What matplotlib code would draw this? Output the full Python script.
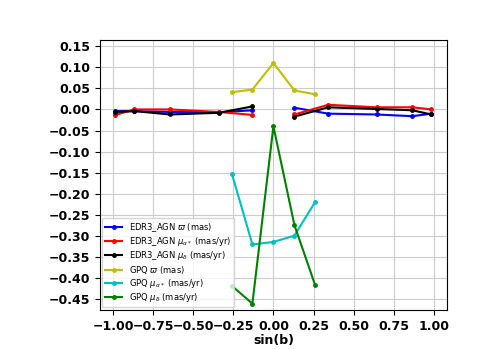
import numpy as np
import matplotlib
matplotlib.use("Agg")
import matplotlib.pyplot as plt

# sin(b) bins
x_edr3 = [-0.985, -0.866, -0.643, -0.342, -0.131, np.nan, 0.131, 0.342, 0.643, 0.866, 0.985]
x_gpq = [-0.259, -0.131, 0.0, 0.131, 0.259]

edr3_plx = [-0.004, -0.004, -0.006, -0.007, -0.002, np.nan, 0.004, -0.010, -0.012, -0.016, -0.010]
edr3_pmra = [-0.013, 0.0, 0.0, -0.006, -0.013, np.nan, -0.012, 0.011, 0.005, 0.005, 0.0]
edr3_pmdec = [-0.006, -0.004, -0.012, -0.008, 0.007, np.nan, -0.017, 0.005, 0.001, -0.002, -0.012]

gpq_plx = [0.041, 0.047, 0.110, 0.045, 0.036]
gpq_pmra = [-0.152, -0.320, -0.314, -0.299, -0.220]
gpq_pmdec = [-0.418, -0.460, -0.040, -0.274, -0.415]

fig = plt.figure(figsize=(4.98, 3.49), dpi=100)
ax = fig.add_axes([0.2, 0.112, 0.698, 0.774])

ax.plot(x_edr3, edr3_plx, "b.-", ms=5, label=r"EDR3_AGN $\varpi$ (mas)")
ax.plot(x_edr3, edr3_pmra, "r.-", ms=5, label=r"EDR3_AGN $\mu_{\alpha*}$ (mas/yr)")
ax.plot(x_edr3, edr3_pmdec, "k.-", ms=5, label=r"EDR3_AGN $\mu_{\delta}$ (mas/yr)")
ax.plot(x_gpq, gpq_plx, "y.-", ms=5, label=r"GPQ $\varpi$ (mas)")
ax.plot(x_gpq, gpq_pmra, "c.-", ms=5, label=r"GPQ $\mu_{\alpha*}$ (mas/yr)")
ax.plot(x_gpq, gpq_pmdec, "g.-", ms=5, label=r"GPQ $\mu_{\delta}$ (mas/yr)")

ax.set_xticks([-1.0, -0.75, -0.5, -0.25, 0.0, 0.25, 0.5, 0.75, 1.0])
ax.set_yticks(np.arange(-0.45, 0.151, 0.05))
ax.set_ylim(-0.475, 0.165)
for lab in ax.get_xticklabels() + ax.get_yticklabels():
    lab.set_fontweight("bold")
    lab.set_fontsize(9)
ax.set_xlabel("sin(b)", fontweight="bold", fontsize=9, labelpad=1)
ax.grid(True, color="#cccccc")
ax.legend(loc="lower left", fontsize=6, labelspacing=0.15, borderaxespad=0.3)

fig.savefig("out.png", dpi=100)
